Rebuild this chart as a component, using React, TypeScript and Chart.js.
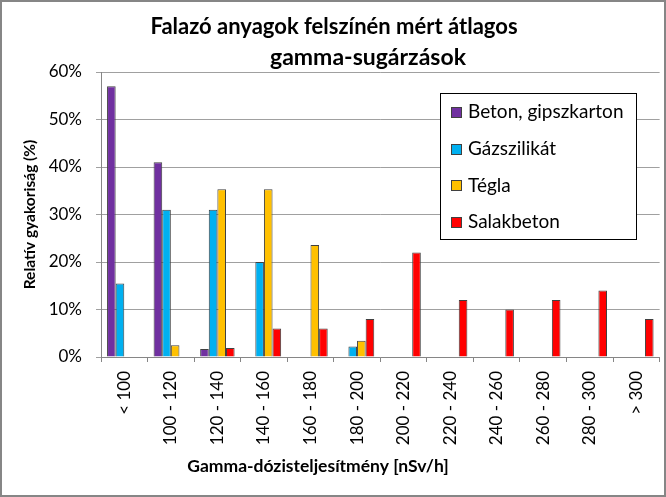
import React, { useEffect, useRef } from "react";
import { Chart, registerables } from "chart.js";

Chart.register(...registerables);

const categories = [
  "< 100", "100 - 120", "120 - 140", "140 - 160", "160 - 180", "180 - 200",
  "200 - 220", "220 - 240", "240 - 260", "260 - 280", "280 - 300", "> 300",
];
const seriesNames = ["Beton, gipszkarton", "Gázszilikát", "Tégla", "Salakbeton"];
const betonValues = [57, 41, 1.7, null, null, null, null, null, null, null, null, null];
const gazszilikatValues = [15.5, 31, 31, 20, null, 2.2, null, null, null, null, null, null];
const teglaValues = [null, 2.5, 35.3, 35.3, 23.6, 3.4, null, null, null, null, null, null];
const salakbetonValues = [null, null, 1.9, 6, 6, 8, 22, 12, 10, 12, 14, 8];
const seriesColors = ["#7030A0", "#00B0F0", "#FFC000", "#FF0000"];
const yTicks = [0, 10, 20, 30, 40, 50, 60];
const titleLines = ["Falazó anyagok felszínén mért átlagos", "gamma-sugárzások"];
const xTitle = "Gamma-dózisteljesítmény [nSv/h]";
const yTitle = "Relatív gyakoriság (%)";

const FONT = "Lato, 'Open Sans', sans-serif";

const decorPlugin = {
  id: "decor",
  beforeDraw(chart: any) {
    const ctx = chart.ctx;
    ctx.save();
    ctx.fillStyle = "#ffffff";
    ctx.fillRect(0, 0, chart.width, chart.height);
    ctx.restore();
  },
  afterDraw(chart: any) {
    const ctx = chart.ctx;
    ctx.save();
    // title
    ctx.fillStyle = "#000000";
    ctx.textAlign = "center";
    ctx.textBaseline = "middle";
    ctx.font = `bold 22px ${FONT}`;
    ctx.fillText(titleLines[0], 334, 27);
    ctx.font = `bold 23px ${FONT}`;
    ctx.fillText(titleLines[1], 368, 58);
    // x-axis title
    ctx.font = `bold 17.5px ${FONT}`;
    ctx.fillText(xTitle, 318, 466);

    // legend
    const lx = 440, ly = 93, lw = 196, lh = 146;
    ctx.fillStyle = "#ffffff";
    ctx.fillRect(lx, ly, lw, lh);
    ctx.strokeStyle = "#000000";
    ctx.lineWidth = 1;
    ctx.strokeRect(lx + 0.5, ly + 0.5, lw, lh);
    ctx.font = `19px ${FONT}`;
    ctx.textAlign = "left";
    chart.data.datasets.forEach((ds: any, i: number) => {
      const cy = ly + 19 + i * 36.7;
      ctx.fillStyle = ds.backgroundColor;
      ctx.fillRect(451, Math.round(cy - 5), 10, 10);
      ctx.strokeStyle = "#404040";
      ctx.strokeRect(451.5, Math.round(cy - 5) + 0.5, 10, 10);
      ctx.fillStyle = "#000000";
      ctx.fillText(ds.label, 468, cy);
    });

    // outer border
    ctx.strokeStyle = "#868686";
    ctx.lineWidth = 2;
    ctx.strokeRect(1, 1, chart.width - 2, chart.height - 2);
    ctx.restore();
  },
};

export default function App() {
  const canvasRef = useRef<HTMLCanvasElement | null>(null);

  useEffect(() => {
    document.body.style.margin = "0";
    const canvas = canvasRef.current;
    if (!canvas) return;
    const valueSets = [betonValues, gazszilikatValues, teglaValues, salakbetonValues];
    const chart = new Chart(canvas, {
      type: "bar",
      data: {
        labels: categories,
        datasets: seriesNames.map((name, i) => ({
          label: name,
          data: valueSets[i],
          backgroundColor: seriesColors[i],
          borderColor: "#404040",
          borderWidth: 1,
          borderSkipped: "start",
          categoryPercentage: 0.74,
          barPercentage: 1,
        })),
      },
      options: {
        animation: false,
        responsive: false,
        devicePixelRatio: 1,
        layout: { padding: { top: 72, right: 6, left: 0, bottom: 0 } },
        plugins: {
          legend: { display: false },
          title: { display: false },
          tooltip: { enabled: false },
        },
        scales: {
          x: {
            offset: true,
            grid: {
              offset: true,
              drawOnChartArea: false,
              drawTicks: true,
              tickLength: 5,
              color: "#868686",
            },
            border: { color: "#868686", width: 1 },
            ticks: {
              autoSkip: false,
              maxRotation: 90,
              minRotation: 90,
              padding: 9,
              color: "#000000",
              font: { family: FONT, size: 17 },
            },
            afterFit: (scale: any) => {
              scale.height = 140;
            },
          },
          y: {
            min: 0,
            max: 60,
            grid: {
              color: "#A0A0A0",
              tickLength: 5,
            },
            border: { color: "#868686", width: 1 },
            ticks: {
              stepSize: 10,
              padding: 14,
              color: "#000000",
              font: { family: FONT, size: 17 },
              callback: (v: any) => (yTicks.includes(Number(v)) ? `${v}%` : ""),
            },
            title: {
              display: true,
              text: yTitle,
              color: "#000000",
              font: { family: FONT, size: 15.5, weight: "bold" },
              padding: { top: 21, bottom: 0 },
            },
            afterFit: (scale: any) => {
              scale.width = 101;
            },
          },
        },
      },
      plugins: [decorPlugin],
    });
    return () => chart.destroy();
  }, []);

  return (
    <div style={{ width: 666, height: 497 }}>
      <canvas ref={canvasRef} width={666} height={497} style={{ display: "block", width: 666, height: 497 }} />
    </div>
  );
}
